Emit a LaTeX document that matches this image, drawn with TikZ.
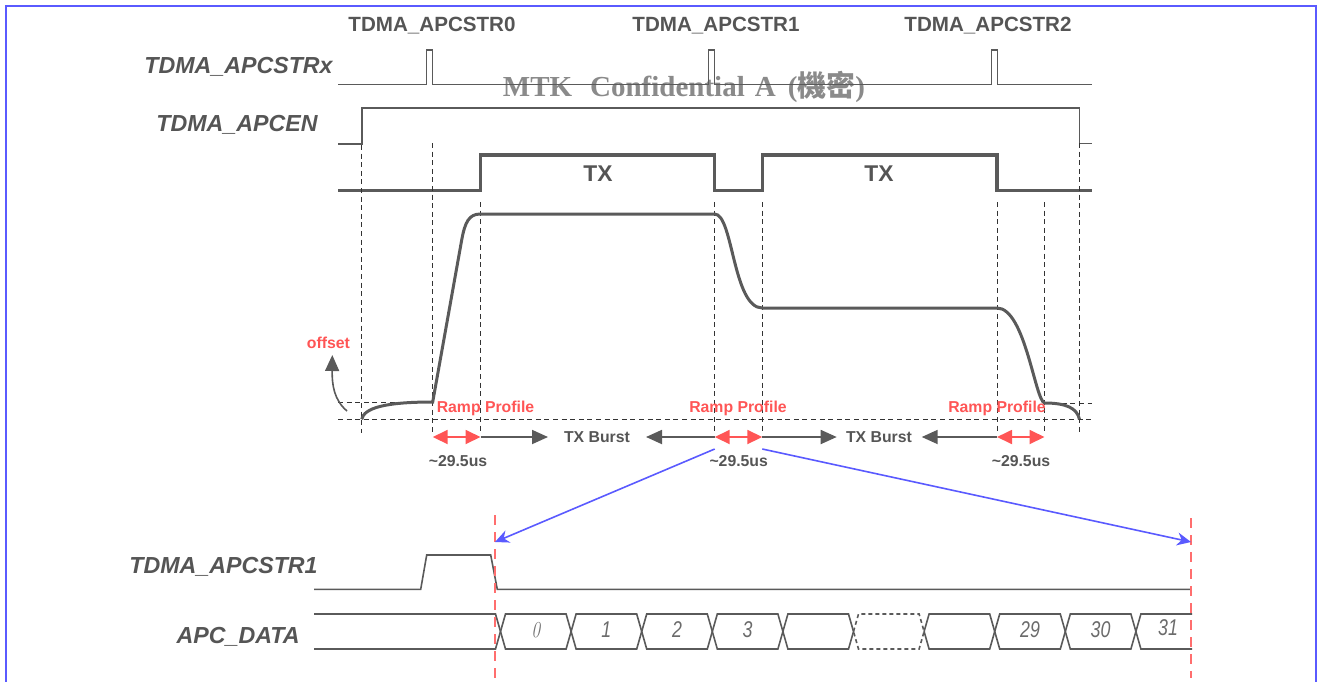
\documentclass[tikz,border=0pt]{standalone}
\usepackage{fontspec}
\usepackage{graphicx}
\setsansfont{Liberation Sans}
\renewcommand{\familydefault}{\sfdefault}
\newfontfamily\wmfont{Liberation Serif}
\newfontfamily\cjkfont{Noto Sans CJK TC}
\usetikzlibrary{arrows.meta}
\definecolor{sigc}{RGB}{90,90,90}
\definecolor{labc}{RGB}{85,85,85}
\definecolor{redc}{RGB}{255,85,85}
\definecolor{bluec}{RGB}{90,90,255}
\definecolor{wmc}{RGB}{138,138,138}
\newcommand{\narrow}[1]{\scalebox{0.78}[1]{#1}}
\tikzset{
  sig/.style={draw=sigc, line width=0.8pt},
  dashcell/.style={sig, dash pattern=on 2pt off 1.5pt},
  txsig/.style={draw=sigc, line width=1.6pt},
  pwr/.style={draw=sigc, line width=1.5pt},
  guide/.style={draw=black!80, line width=0.5pt, dash pattern=on 2.5pt off 1.8pt},
  cutline/.style={draw=redc!85, line width=1pt, dash pattern=on 5pt off 3.5pt},
  frame/.style={draw=bluec, line width=1pt},
  toplabel/.style={font=\fontsize{10.3}{12}\selectfont\bfseries, text=labc, inner sep=0pt},
  siglabel/.style={font=\fontsize{11.6}{13}\selectfont\bfseries\itshape, text=labc, anchor=east, inner sep=0pt},
  txlabel/.style={font=\fontsize{11.4}{13}\selectfont\bfseries, text=labc, inner sep=0pt},
  note/.style={font=\fontsize{7.9}{9}\selectfont\bfseries, inner sep=0pt},
  rednote/.style={note, text=redc},
  graynote/.style={note, text=labc},
  cellnum/.style={font=\fontsize{11.4}{13}\selectfont\itshape, text=sigc!90, inner sep=0pt},
  ramparrow/.style={{Triangle[length=7.5pt,width=7pt]}-{Triangle[length=7.5pt,width=7pt]}, draw=redc, line width=0.9pt},
  burstarrow/.style={-{Triangle[length=8pt,width=7pt]}, draw=sigc, line width=0.9pt},
  zoomarrow/.style={-{Stealth[length=7pt,width=6.5pt]}, draw=bluec, line width=0.8pt}
}

\begin{document}
\begin{tikzpicture}[x=0.5pt, y=-0.5pt]
  \clip (0,0) rectangle (1317,681);
  \draw[frame] (6,6) rectangle (1315.5,700);

  \node[text=wmc, font=\fontsize{14.5}{16}\selectfont] (wm) at (684,87) {\wmfont\bfseries MTK\hspace{9pt}Confidential\hspace{5pt}A\hspace{6pt}({\cjkfont\bfseries 機密})};

  \node[toplabel] (str0) at (432,26) {TDMA\_APCSTR0};
  \node[toplabel] (str1) at (716,26) {TDMA\_APCSTR1};
  \node[toplabel] (str2) at (988,26) {TDMA\_APCSTR2};
  \node[siglabel] (lstrx) at (333,67) {TDMA\_APCSTRx};
  \node[siglabel] (lapcen) at (318,125) {TDMA\_APCEN};
  \node[txlabel] (tx1) at (598,174) {TX};
  \node[txlabel] (tx2) at (879,174) {TX};

  \draw[sig] (338,84.5) -- (426.5,84.5) -- (426.5,50) -- (432.5,50) -- (432.5,84.5)
    -- (708.5,84.5) -- (708.5,50) -- (714.5,50) -- (714.5,84.5)
    -- (991.5,84.5) -- (991.5,50) -- (997.5,50) -- (997.5,84.5) -- (1092,84.5);
  \draw[sig] (338,144) -- (361.7,144) -- (361.7,108) -- (1079.5,108) -- (1079.5,143.5) -- (1092,143.5);
  \draw[txsig] (338,190.7) -- (480.5,190.7) -- (480.5,155) -- (714.7,155) -- (714.7,190.7)
    -- (762.3,190.7) -- (762.3,155) -- (997,155) -- (997,190.7) -- (1092,190.7);

  \foreach \gx/\gy in {361.7/145, 432.7/143, 480.5/202, 714.7/202, 762.3/202, 997/202, 1044.5/202, 1079.5/143}
    \draw[guide] (\gx,\gy) -- (\gx,433);
  \draw[guide] (338,419.3) -- (1092,419.3);
  \draw[guide] (338,402) -- (432.7,402);
  \draw[guide] (1044.5,403) -- (1092,403);

  \draw[pwr] (361.7,419.3) .. controls (364,408) and (385,402) .. (432.7,402)
    -- (461.7,240) .. controls (465,222) and (469,214) .. (480.5,214)
    -- (714.7,214) .. controls (733,214) and (733,308) .. (762.3,308)
    -- (997,308) .. controls (1025,308) and (1035,400) .. (1044.5,403)
    .. controls (1066,403) and (1077,408) .. (1079.5,419.3);

  \node[rednote] (offs) at (328.5,343) {offset};
  \draw[burstarrow, line width=0.8pt] (347,411) .. controls (334,400) and (332,385) .. (332.3,355);

  \node[rednote] (ramp0) at (485.5,408) {Ramp Profile};
  \node[rednote] (ramp1) at (738,408) {Ramp Profile};
  \node[rednote] (ramp2) at (997,408) {Ramp Profile};
  \node[graynote] (burst1) at (597,437) {TX Burst};
  \node[graynote] (burst2) at (879,437) {TX Burst};
  \node[graynote] (dur0) at (458,461) {\textasciitilde 29.5us};
  \node[graynote] (dur1) at (738.7,461) {\textasciitilde 29.5us};
  \node[graynote] (dur2) at (1021,461) {\textasciitilde 29.5us};

  \draw[ramparrow] (432.7,437) -- (480.5,437);
  \draw[ramparrow] (714.7,437) -- (762.3,437);
  \draw[ramparrow] (997,437) -- (1044.5,437);
  \draw[burstarrow] (480.5,437) -- (548,437);
  \draw[burstarrow] (714.7,437) -- (646,437);
  \draw[burstarrow] (762.3,437) -- (836.7,437);
  \draw[burstarrow] (997,437) -- (921.7,437);

  \node[siglabel] (lstr1) at (318,567) {TDMA\_APCSTR1};
  \node[siglabel] (ldata) at (300,637) {APC\_DATA};

  \draw[sig] (314,589.3) -- (420.7,589.3) -- (426.7,555) -- (490.7,555) -- (497.3,589.3) -- (1191,589.3);
  \draw[sig] (314,614) -- (495.5,614) -- (500.5,631.5) -- (495.5,649) -- (314,649);
  \foreach \k/\st in {0/sig,1/sig,2/sig,3/sig,4/sig,5/dashcell,6/sig,7/sig,8/sig} {
    \pgfmathsetmacro{\xa}{500.5+70.6*\k}
    \pgfmathsetmacro{\xb}{\xa+70.6}
    \draw[\st] (\xa,631.5) -- (\xa+5,614) -- (\xb-5,614) -- (\xb,631.5) -- (\xb-5,649) -- (\xa+5,649) -- cycle;
  }
  \draw[sig] (1192,614) -- (1140.9,614) -- (1135.9,631.5) -- (1140.9,649) -- (1192,649);

  \node[cellnum, text=black!55] (cell0) at (535.8,630) {\rmfamily\narrow{0}};
  \foreach \k/\num in {1/1,2/2,3/3,7/29,8/30}
    \node[cellnum] (cell\k) at ({535.8+70.6*\k},630) {\narrow{\num}};
  \node[cellnum] (cell9) at (1168,628) {\narrow{31}};

  \draw[cutline] (495,515) -- (495,678);
  \draw[cutline] (1191,518) -- (1191,678);

  \coordinate (tap1) at (714.7,449);
  \coordinate (tap2) at (762.3,449);
  \coordinate (win0) at (495,542);
  \coordinate (win1) at (1191,542);
  \draw[zoomarrow] (tap1) -- (win0);
  \draw[zoomarrow] (tap2) -- (win1);
\end{tikzpicture}
\end{document}
